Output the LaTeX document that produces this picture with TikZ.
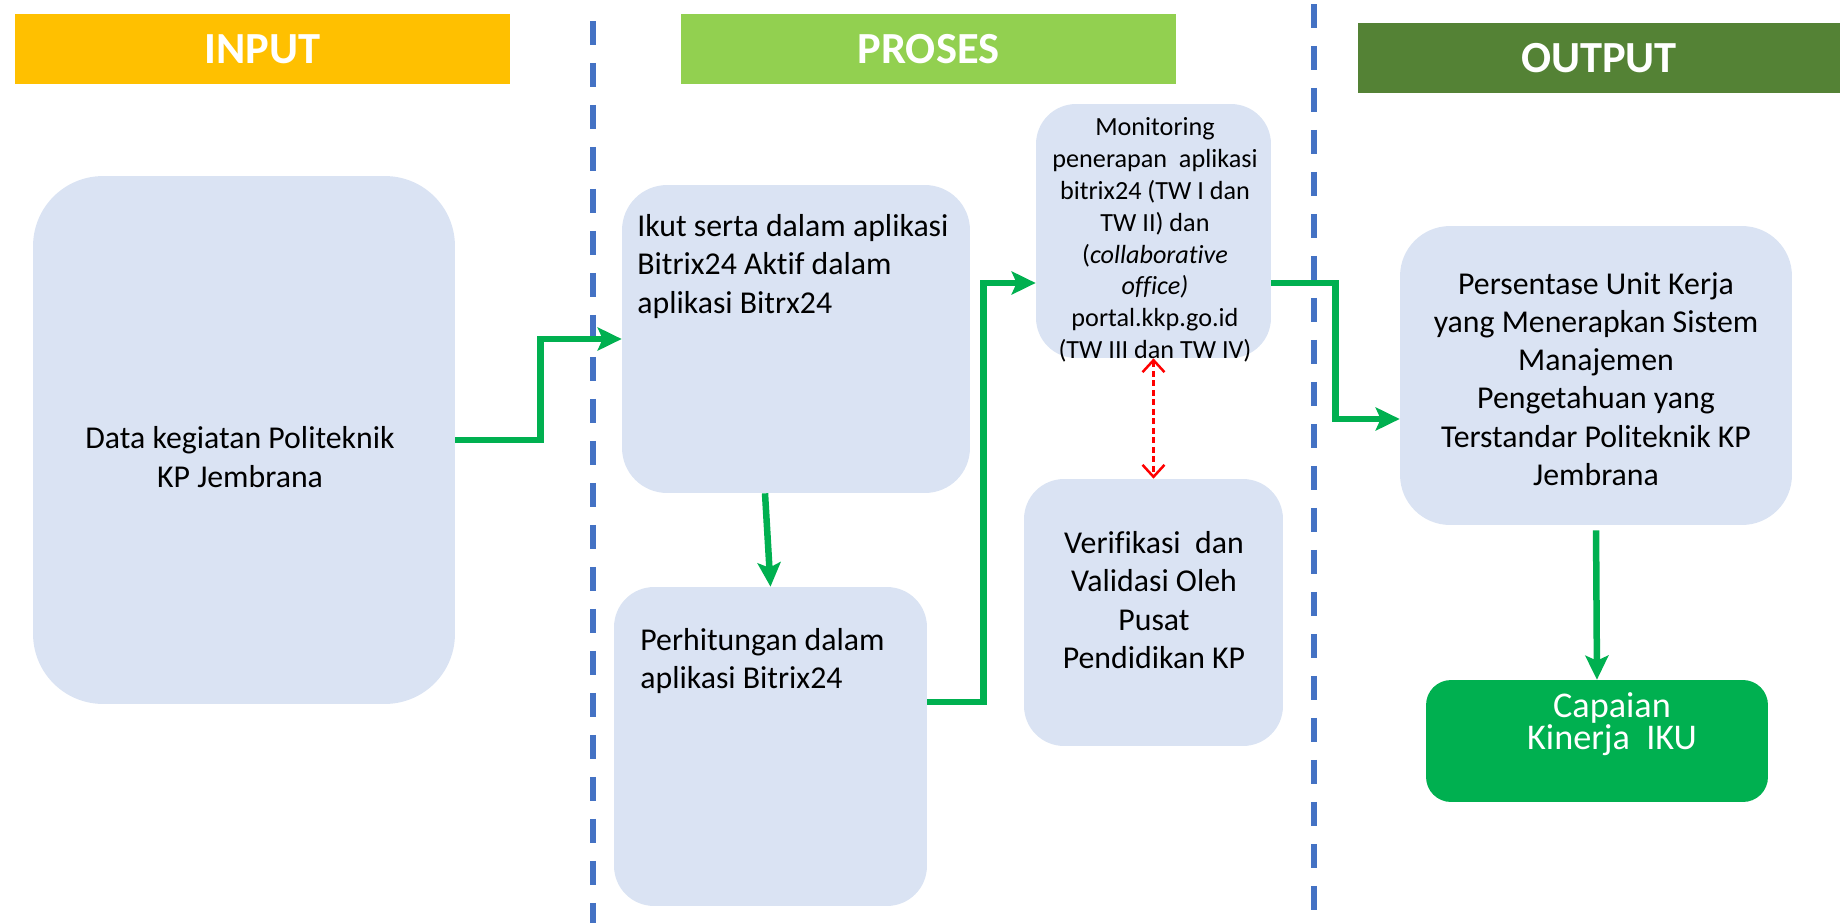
\documentclass[tikz,border=0pt]{standalone}
\usepackage{fontspec}
\setmainfont{Carlito}[Ligatures=NoCommon]
\usetikzlibrary{arrows.meta}

\definecolor{inputcol}{HTML}{FFC000}
\definecolor{prosescol}{HTML}{92D050}
\definecolor{outputcol}{HTML}{548235}
\definecolor{boxcol}{HTML}{DAE3F3}
\definecolor{flowcol}{HTML}{00B050}
\definecolor{linecol}{HTML}{4472C4}

\begin{document}
\begin{tikzpicture}[x=0.02cm, y=-0.02cm,
    header/.style={inner sep=0pt, minimum width=9.9cm, minimum height=1.4cm, text=white, font=\fontsize{25.3}{30}\selectfont\bfseries},
    box/.style={fill=boxcol, inner sep=0pt},
    txt/.style={inner sep=0pt, font=\fontsize{18.1}{21.8}\selectfont},
    flow/.style={draw=flowcol, line width=0.13cm, -{Stealth[length=0.48cm, width=0.46cm, inset=0.1cm]}},
    check/.style={draw=red, line width=0.05cm, dash pattern=on 0.12cm off 0.07cm, {Straight Barb[length=0.24cm, width=0.44cm]}-{Straight Barb[length=0.24cm, width=0.44cm]}},
    divider/.style={draw=linecol, line width=0.12cm, dash pattern=on 0.48cm off 0.36cm}]

    \useasboundingbox (0,0) rectangle (1840,923);

    % headers
    \node[header, fill=inputcol] (input) at (262.5,49) {INPUT};
    \node[header, fill=prosescol] (proses) at (928.5,49) {PROSES};
    \node[header, fill=outputcol, minimum width=9.64cm] (output) at (1599,58) {OUTPUT};

    % column dividers
    \draw[divider] (593,21) -- (593,923);
    \draw[divider] (1314,4) -- (1314,923);

    % boxes
    \node[box, rounded corners=1.4cm, minimum width=8.44cm, minimum height=10.56cm] (data) at (244,440) {};
    \node[box, rounded corners=0.9cm, minimum width=6.96cm, minimum height=6.16cm] (ikut) at (796,339) {};
    \node[box, rounded corners=0.8cm, minimum width=6.26cm, minimum height=6.38cm] (hitung) at (770.5,746.5) {};
    \node[box, rounded corners=0.8cm, minimum width=4.7cm, minimum height=5.08cm] (monitor) at (1153.5,231) {};
    \node[box, rounded corners=0.8cm, minimum width=5.18cm, minimum height=5.34cm] (verif) at (1153.5,612.5) {};
    \node[box, rounded corners=1cm, minimum width=7.84cm, minimum height=5.98cm] (persen) at (1596,375.5) {};
    \node[fill=flowcol, inner sep=0pt, rounded corners=0.5cm, minimum width=6.84cm, minimum height=2.44cm] (capai) at (1597,741) {};

    % texts
    \node[txt, align=center] (datatxt) at (240,457) {Data kegiatan Politeknik\\KP Jembrana};
    \node[txt, align=left, anchor=north west] (ikuttxt) at (637,214) {Ikut serta dalam aplikasi\\Bitrix24 Aktif dalam\\aplikasi Bitrx24};
    \node[txt, align=left, anchor=north west] (hitungtxt) at (640,628) {Perhitungan dalam\\aplikasi Bitrix24};
    \node[txt, align=center, font=\fontsize{14.9}{18.1}\selectfont] (monitortxt) at (1155,240) {Monitoring\\penerapan\ \ aplikasi\\bitrix24 (TW I dan\\TW II) dan\\(\textit{collaborative}\\\textit{office)}\\portal.kkp.go.id\\(TW III dan TW IV)};
    \node[txt, align=center] (veriftxt) at (1154,600) {Verifikasi\ \ dan\\Validasi Oleh\\Pusat\\Pendidikan KP};
    \node[txt, align=center] (persentxt) at (1596,379) {Persentase Unit Kerja\\yang Menerapkan Sistem\\Manajemen\\Pengetahuan yang\\Terstandar Politeknik KP\\Jembrana};
    \node[txt, align=center, text=white, font=\fontsize{20.6}{18.6}\selectfont] (capaitxt) at (1612,724) {Capaian\\Kinerja\ \ IKU};

    % connectors
    \draw[flow] (data.east) -- ++(85,0) |- (ikut.west);
    \draw[flow] ([xshift=-0.62cm]ikut.south) -- (hitung.north);
    \draw[flow] ([yshift=0.89cm]hitung.east) -- ++(56,0) |- ([yshift=-1.04cm]monitor.west);
    \draw[flow] ([yshift=-1.04cm]monitor.east) -- ++(64,0) |- ([yshift=-0.87cm]persen.west);
    \draw[flow, shorten <=0.1cm] (persen.south) -- (capai.north);
    \draw[check] (monitor.south) -- (verif.north);
\end{tikzpicture}
\end{document}
